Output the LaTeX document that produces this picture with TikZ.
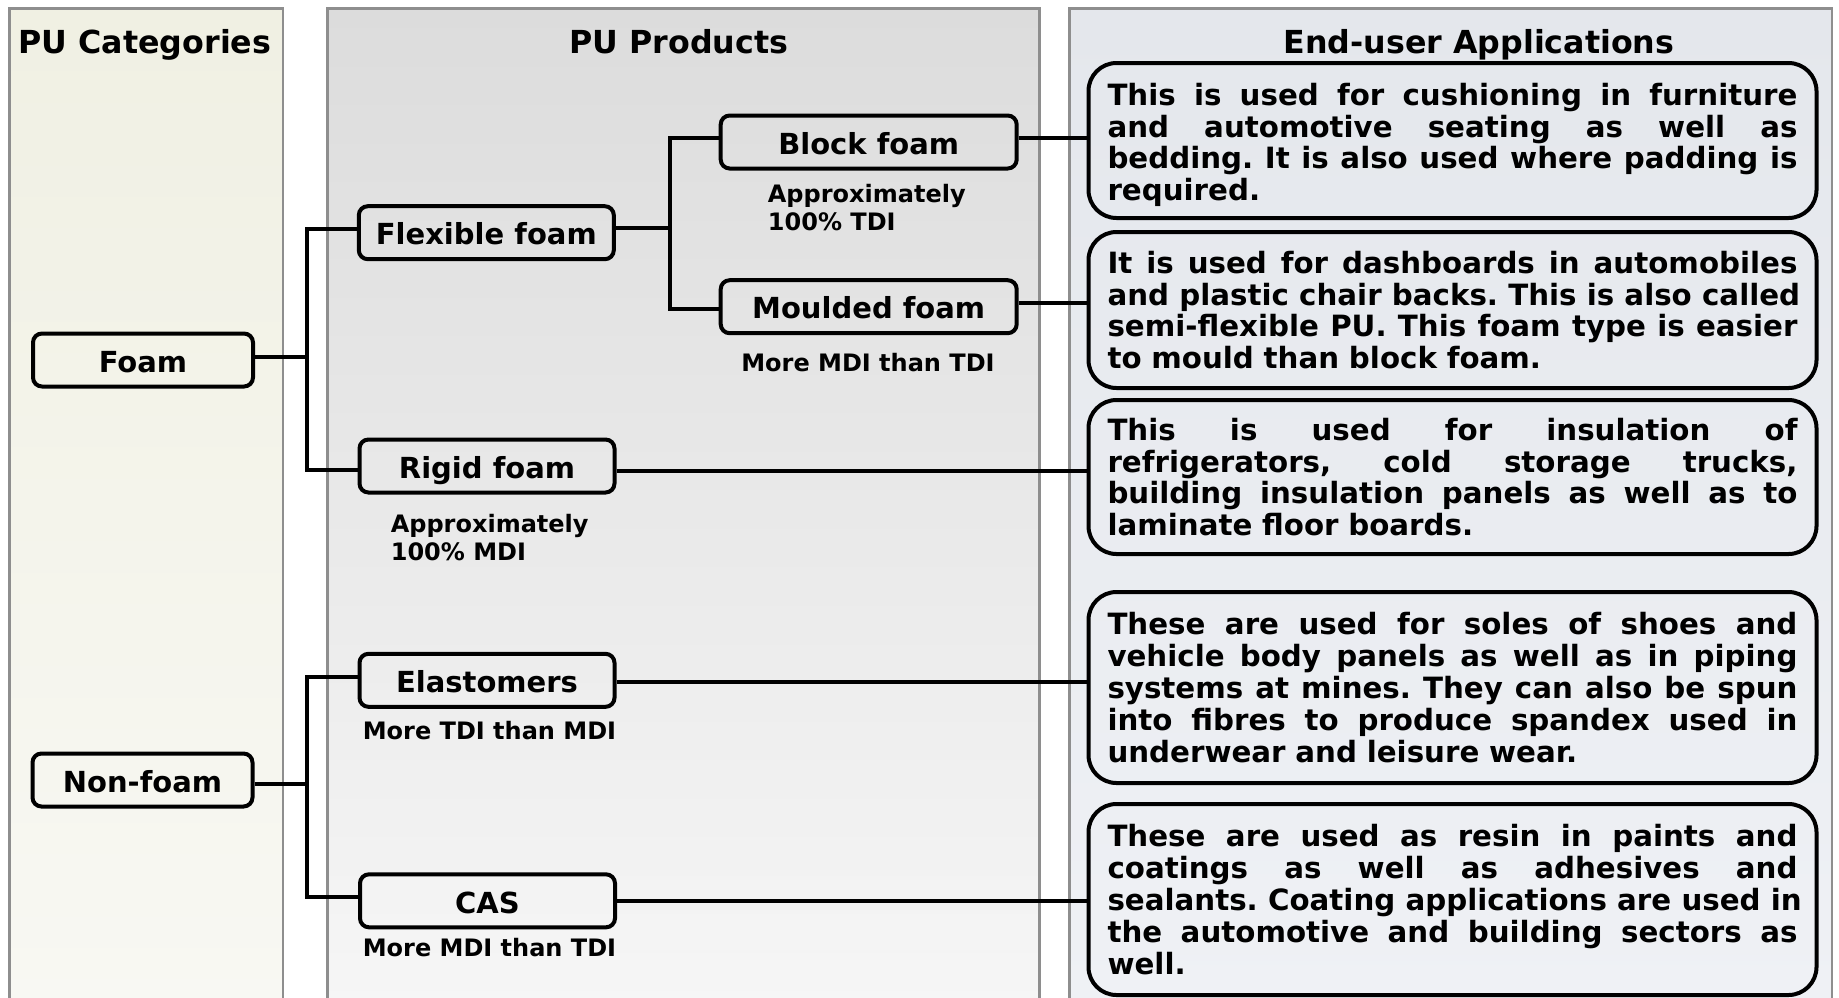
\documentclass[tikz,border=0pt]{standalone}
\usepackage{fontspec}
\setmainfont{DejaVu Sans}
\frenchspacing
\definecolor{catTop}{HTML}{F0F0E3}
\definecolor{catBot}{HTML}{F8F8F3}
\definecolor{prodTop}{HTML}{DCDCDC}
\definecolor{prodBot}{HTML}{F6F6F6}
\definecolor{appTop}{HTML}{E4E7EC}
\definecolor{appBot}{HTML}{EFF1F5}
\definecolor{panelBorder}{HTML}{8E8E8E}
\newcommand{\jl}[1]{\leavevmode\hbox to 690pt{\spaceskip=\fontdimen2\font plus 1fil\relax #1}}
\begin{document}
\begin{tikzpicture}[x=1pt,y=-1pt,
  panel/.style={draw=panelBorder, line width=2.7pt},
  hdr/.style={font=\fontsize{31.7}{34}\selectfont\bfseries, anchor=base, inner sep=0pt},
  box/.style={draw=black, line width=4pt, rounded corners=9pt, font=\fontsize{29}{32}\selectfont\bfseries, inner sep=0pt, minimum height=53pt, text height=24.5pt, text depth=0pt},
  catbox/.style={box, minimum width=220pt},
  prodbox/.style={box, minimum width=255pt},
  subbox/.style={box, minimum width=296pt},
  appbox/.style={draw=black, line width=4pt, rounded corners=28pt, font=\fontsize{29.3}{31.8}\selectfont\bfseries, text width=690pt, align=left, minimum width=728pt, inner sep=0pt},
  note/.style={font=\fontsize{24}{28.5}\selectfont\bfseries, inner sep=0pt},
  link/.style={line width=4pt}
]
\useasboundingbox (0,0) rectangle (1839,997);
\begin{scope}
\clip (0,0) rectangle (1839,997);
\shade[top color=catTop, bottom color=catBot] (9.6,8.5) rectangle (283,1010);
\draw[panel] (9.6,8.5) rectangle (283,1010);
\shade[top color=prodTop, bottom color=prodBot] (327.7,8.5) rectangle (1039.5,1010);
\draw[panel] (327.7,8.5) rectangle (1039.5,1010);
\shade[top color=appTop, bottom color=appBot] (1069.3,8.5) rectangle (1832,1010);
\draw[panel] (1069.3,8.5) rectangle (1832,1010);
\end{scope}

\node[hdr] (h1) at (145,53) {PU Categories};
\node[hdr] (h2) at (679,53) {PU Products};
\node[hdr] (h3) at (1479,53) {End-user Applications};

\node[catbox] (foam) at (143,360) {Foam};
\node[catbox] (nonfoam) at (142.5,780) {Non-foam};
\node[prodbox] (flex) at (486.3,232.7) {Flexible foam};
\node[prodbox] (rigid) at (487,466) {Rigid foam};
\node[prodbox] (elast) at (487,680.3) {Elastomers};
\node[prodbox] (cas) at (487.5,900.8) {CAS};
\node[subbox] (block) at (868.7,142) {Block foam};
\node[subbox] (mould) at (868.7,306.7) {Moulded foam};

\node[note, align=left, anchor=west] (n1) at (767.7,207.5) {Approximately\\100\% TDI};
\node[note] (n2) at (868,362.3) {More MDI than TDI};
\node[note, align=left, anchor=west] (n3) at (390.6,537.5) {Approximately\\100\% MDI};
\node[note] (n4) at (489.5,730.7) {More TDI than MDI};
\node[note] (n5) at (489.5,948) {More MDI than TDI};

\node[appbox, minimum height=155pt] (app1) at (1452.5,140.5) {\rule{0pt}{31pt}\jl{This is used for cushioning in furniture}\\\jl{and automotive seating as well as}\\\jl{bedding. It is also used where padding is}\\required.};
\node[appbox, minimum height=156pt] (app2) at (1452.5,310) {\jl{It is used for dashboards in automobiles}\\\jl{and plastic chair backs. This is also called}\\\jl{semi-flexible PU. This foam type is easier}\\to mould than block foam.};
\node[appbox, minimum height=154pt] (app3) at (1452.5,477) {\jl{This is used for insulation of}\\\jl{refrigerators, cold storage trucks,}\\\jl{building insulation panels as well as to}\\laminate floor boards.};
\node[appbox, minimum height=191pt] (app4) at (1452.5,687.5) {\jl{These are used for soles of shoes and}\\\jl{vehicle body panels as well as in piping}\\\jl{systems at mines. They can also be spun}\\\jl{into fibres to produce spandex used in}\\underwear and leisure wear.};
\node[appbox, minimum height=191pt] (app5) at (1452.5,899.5) {\jl{These are used as resin in paints and}\\\jl{coatings as well as adhesives and}\\\jl{sealants. Coating applications are used in}\\\jl{the automotive and building sectors as}\\well.};

\draw[link] ([yshift=3pt]foam.east) -- ++(52,0) coordinate (jf) |- ([yshift=3.7pt]flex.west);
\draw[link] (jf) |- ([yshift=-4pt]rigid.west);
\draw[link] ([yshift=4.5pt]flex.east) -- ++(54.5,0) coordinate (jx) |- ([yshift=4pt]block.west);
\draw[link] (jx) |- ([yshift=-2.3pt]mould.west);
\draw[link] ([yshift=-4pt]nonfoam.east) -- ++(52.5,0) coordinate (jn) |- ([yshift=3.6pt]elast.west);
\draw[link] (jn) |- ([yshift=4pt]cas.west);
\draw[link] ([yshift=4pt]block.east) -- ([yshift=4pt]block.east -| app1.west);
\draw[link] ([yshift=4pt]mould.east) -- ([yshift=4pt]mould.east -| app2.west);
\draw[link] ([yshift=-4.7pt]rigid.east) -- ([yshift=-4.7pt]rigid.east -| app3.west);
\draw[link] ([yshift=-1.4pt]elast.east) -- ([yshift=-1.4pt]elast.east -| app4.west);
\draw[link] (cas.east) -- (cas.east -| app5.west);
\end{tikzpicture}
\end{document}
